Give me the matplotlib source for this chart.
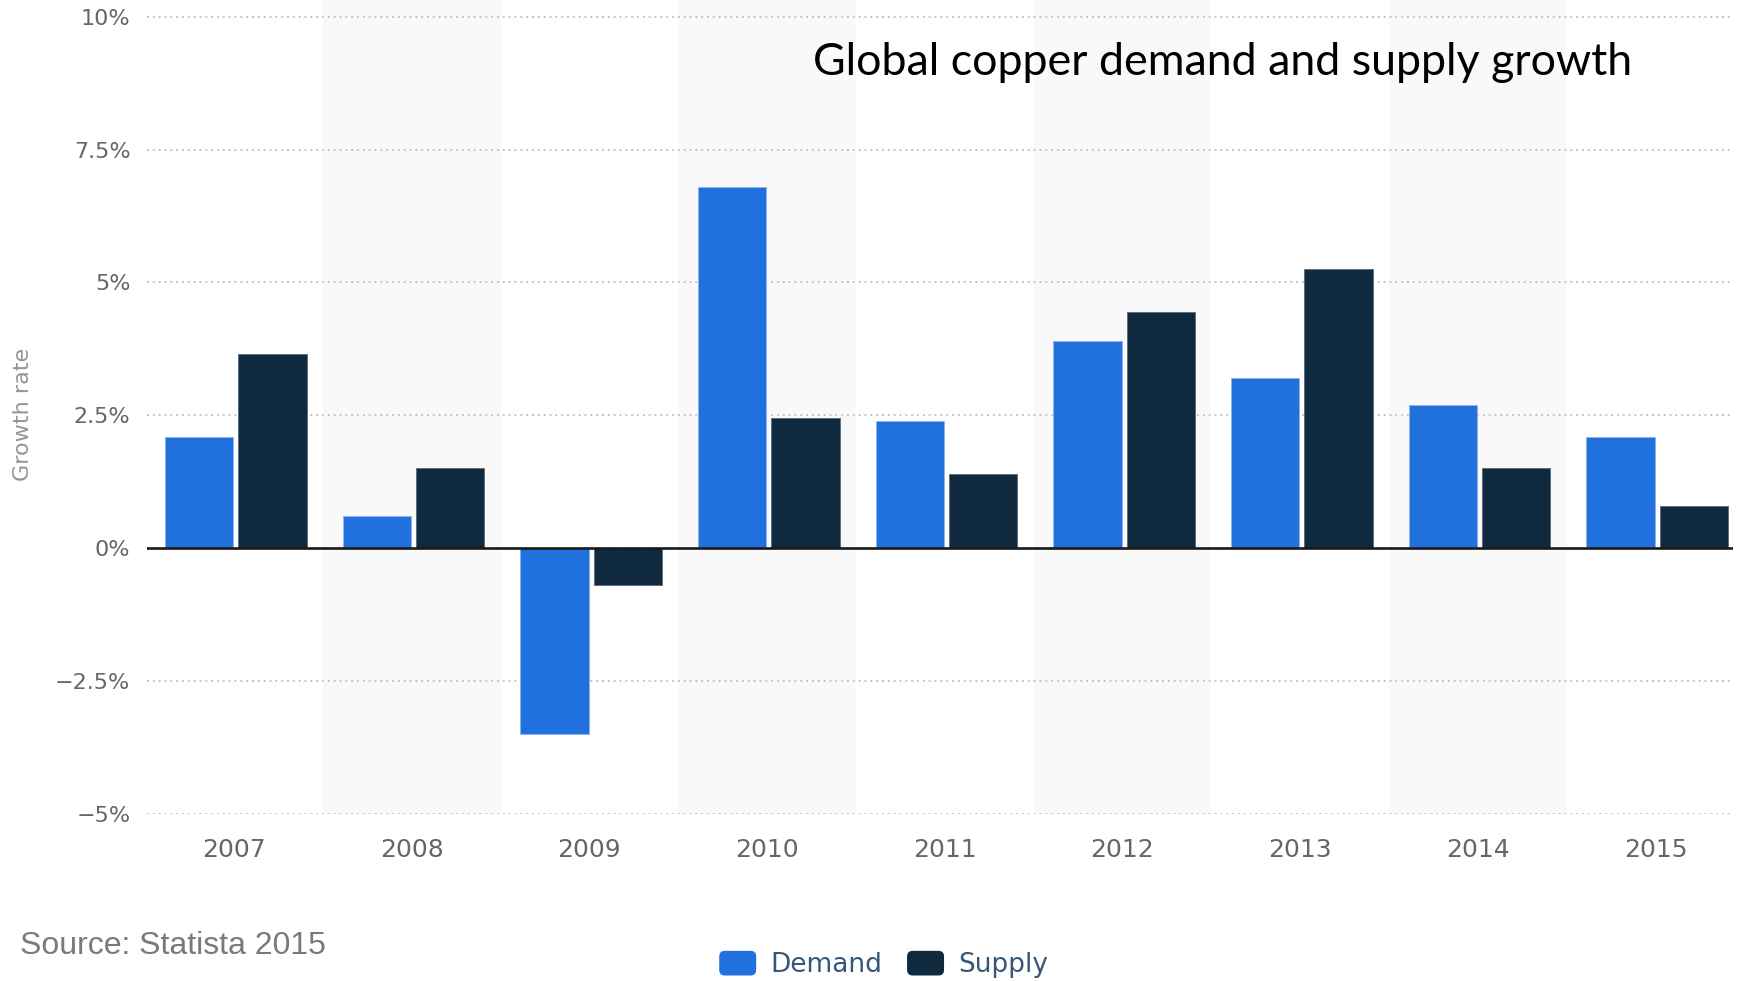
import matplotlib
matplotlib.use("Agg")
from matplotlib import pyplot as plt
from matplotlib.patches import Patch, FancyBboxPatch
from matplotlib.legend_handler import HandlerPatch
from matplotlib.ticker import FuncFormatter
import numpy as np

years = ["2007", "2008", "2009", "2010", "2011", "2012", "2013", "2014", "2015"]
demand = [2.1, 0.6, -3.5, 6.8, 2.4, 3.9, 3.2, 2.7, 2.1]
supply = [3.65, 1.5, -0.7, 2.45, 1.4, 4.45, 5.25, 1.5, 0.8]
y_ticks = [-5, -2.5, 0, 2.5, 5, 7.5, 10]

DEMAND_COLOR = "#2071de"
SUPPLY_COLOR = "#0f293f"


class RoundedHandler(HandlerPatch):
    """Legend swatch drawn as a rounded square."""

    def create_artists(self, legend, orig_handle, xdescent, ydescent,
                       width, height, fontsize, trans):
        box = FancyBboxPatch((-xdescent, -ydescent), width, height,
                             boxstyle="round,pad=0,rounding_size=4",
                             facecolor=orig_handle.get_facecolor(),
                             edgecolor="none", transform=trans)
        return [box]


def pct(v, pos):
    s = ("%g" % v).replace("-", "\u2212")
    return s + "%"


fig = plt.figure(figsize=(17.41, 9.81), dpi=100)
ax = fig.add_axes([147 / 1741, (981 - 814) / 981, (1733 - 147) / 1741, 814 / 981])

x = np.arange(len(years))
bar_w = 0.384

# alternating shaded bands behind every second year
for i in x:
    if i % 2 == 1:
        ax.axvspan(i - 0.5, i + 0.5, color="#f9f9f9", zorder=0, lw=0)

# demand sits just left of the category centre, supply just right
ax.bar(x - 0.005 - bar_w, demand, width=bar_w, align="edge", color=DEMAND_COLOR,
       edgecolor="#8db4ee", linewidth=0.7, zorder=3)
ax.bar(x + 0.024, supply, width=bar_w, align="edge", color=SUPPLY_COLOR,
       edgecolor="#5d7082", linewidth=0.7, zorder=3)

ax.set_xlim(-0.49, 8.436)
ax.set_ylim(-5, 10.314)
ax.set_yticks(y_ticks)
ax.yaxis.set_major_formatter(FuncFormatter(pct))
ax.set_xticks(x)
ax.set_xticklabels(years)

ax.grid(axis="y", color="#c4c4c4", linestyle=(0, (1, 2)), linewidth=1.4, zorder=1)
ax.axhline(0, color="#1a1a1a", linewidth=1.9, zorder=4)

for s in ax.spines.values():
    s.set_visible(False)
ax.tick_params(axis="both", length=0)
ax.tick_params(axis="x", labelsize=18, labelcolor="#666666", pad=17)
ax.tick_params(axis="y", labelsize=16, labelcolor="#666666", pad=12)
ax.set_facecolor("white")

fig.text(1223 / 1741, 1 - 75 / 981, "Global copper demand and supply growth",
         ha="center", va="baseline", fontsize=32.2, family="Lato", color="black")

fig.text(23 / 1741, 1 - 414 / 981, "Growth rate", rotation=90,
         ha="center", va="center", fontsize=16, color="#959595")

fig.text(20 / 1741, 1 - 946 / 981, "Source: Statista 2015",
         ha="left", va="center", fontsize=23, family="Liberation Sans",
         color="#7a7a7a")

handles = [Patch(facecolor=DEMAND_COLOR, label="Demand"),
           Patch(facecolor=SUPPLY_COLOR, label="Supply")]
leg = fig.legend(handles=handles, loc="center",
                 bbox_to_anchor=(883.5 / 1741, 1 - 964.5 / 981), ncol=2,
                 frameon=False, fontsize=19, handlelength=1.4,
                 handleheight=1.06, handletextpad=0.52, columnspacing=0.96,
                 borderpad=0, handler_map={Patch: RoundedHandler()})
for t in leg.get_texts():
    t.set_color("#35577a")

fig.savefig("out.png", dpi=100, facecolor="white")
